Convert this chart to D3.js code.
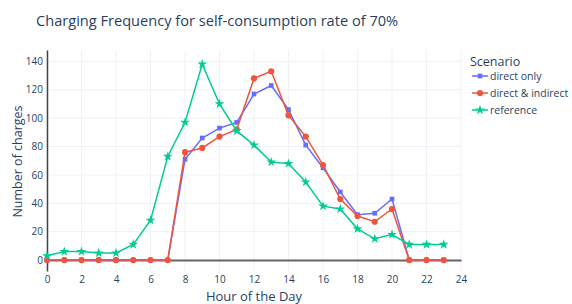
<!DOCTYPE html>
<html>
  <head>
    <meta charset="utf-8" />
    <title>Charging Frequency</title>
    <style>
      body {
        margin: 0;
        background: #fff;
      }
      text {
        font-family: "Open Sans", sans-serif;
        fill: #2a3f5f;
      }
    </style>
  </head>
  <body>
    <svg class="canvas"></svg>
    <script src="https://cdn.jsdelivr.net/npm/d3@7"></script>
    <script>
      const hours = d3.range(0, 24);
      const directOnly = [0, 0, 0, 0, 0, 0, 0, 0, 71, 86, 93, 97, 117, 123, 106, 81, 65, 48, 32, 33, 43, 0, 0, 0];
      const directIndirect = [0, 0, 0, 0, 0, 0, 0, 0, 76, 79, 87, 92, 128, 133, 102, 87, 67, 43, 31, 27, 36, 0, 0, 0];
      const reference = [3, 6, 6, 5, 5, 11, 28, 73, 97, 138, 110, 91, 81, 69, 68, 55, 38, 36, 22, 15, 18, 11, 11, 11];
      const xTicks = d3.range(0, 25, 2);
      const yTicks = [0, 20, 40, 60, 80, 100, 120, 140];

      const series = [
        { name: "direct only", values: directOnly, color: "#636efa", symbol: d3.symbolSquare, size: 22 },
        { name: "direct & indirect", values: directIndirect, color: "#ef553b", symbol: d3.symbolCircle, size: 30 },
        { name: "reference", values: reference, color: "#00cc96", symbol: d3.symbolStar, size: 30 },
      ];

      const width = 572,
        height = 304;
      const plotLeft = 47,
        plotRight = 461,
        plotTop = 50,
        plotBottom = 271;

      const svg = d3.select(".canvas").attr("width", width).attr("height", height);

      const x = d3.scaleLinear().domain([0, 24]).range([plotLeft, plotRight]);
      const y = d3.scaleLinear().domain([-7.7, 148]).range([plotBottom, plotTop]);

      //---------------grid----------------
      svg
        .append("g")
        .selectAll("line")
        .data(xTicks)
        .join("line")
        .attr("x1", (d) => x(d))
        .attr("x2", (d) => x(d))
        .attr("y1", plotTop)
        .attr("y2", plotBottom)
        .attr("stroke", "#eef1f6");

      svg
        .append("g")
        .selectAll("line")
        .data(yTicks.slice(1))
        .join("line")
        .attr("x1", plotLeft)
        .attr("x2", plotRight)
        .attr("y1", (d) => y(d))
        .attr("y2", (d) => y(d))
        .attr("stroke", "#eef1f6");

      //---------------axes----------------
      const xAxis = svg
        .append("g")
        .attr("transform", `translate(0,${y(0)})`)
        .call(d3.axisBottom(x).tickValues(xTicks).tickSize(0).tickPadding(16));
      xAxis.select(".domain").attr("stroke", "#666").attr("stroke-width", 2);
      xAxis.selectAll("text").attr("font-size", 10).style("fill", "#2a3f5f");

      const yAxis = svg
        .append("g")
        .attr("transform", `translate(${plotLeft},0)`)
        .call(d3.axisLeft(y).tickValues(yTicks).tickSize(0).tickPadding(4));
      yAxis.select(".domain").attr("stroke", "#444").attr("stroke-width", 1.5);
      yAxis.selectAll("text").attr("font-size", 10).style("fill", "#2a3f5f");

      //---------------lines----------------
      const line = d3
        .line()
        .x((d, i) => x(hours[i]))
        .y((d) => y(d));

      series.forEach((s) => {
        svg
          .append("path")
          .datum(s.values)
          .attr("fill", "none")
          .attr("stroke", s.color)
          .attr("stroke-width", 1.5)
          .attr("d", line);
        svg
          .append("g")
          .selectAll("path")
          .data(s.values)
          .join("path")
          .attr("transform", (d, i) => `translate(${x(hours[i])},${y(d)})`)
          .attr("d", d3.symbol().type(s.symbol).size(s.size))
          .attr("fill", s.color);
      });

      //---------------titles----------------
      svg
        .append("text")
        .attr("x", 36)
        .attr("y", 26)
        .attr("font-size", 14.6)
        .text("Charging Frequency for self-consumption rate of 70%");

      svg
        .append("text")
        .attr("x", 254)
        .attr("y", 301)
        .attr("text-anchor", "middle")
        .attr("font-size", 13)
        .text("Hour of the Day");

      svg
        .append("text")
        .attr("transform", `translate(22,${(plotTop + plotBottom) / 2 + 1}) rotate(-90)`)
        .attr("text-anchor", "middle")
        .attr("font-size", 12.5)
        .text("Number of charges");

      //---------------legend----------------
      const legend = svg.append("g").attr("transform", "translate(470,0)");
      legend.append("text").attr("x", 0).attr("y", 66).attr("font-size", 12.5).text("Scenario");

      const items = legend
        .selectAll("g")
        .data(series)
        .join("g")
        .attr("transform", (d, i) => `translate(0,${76 + i * 17})`);
      items
        .append("line")
        .attr("x1", 2)
        .attr("x2", 18)
        .attr("stroke", (d) => d.color)
        .attr("stroke-width", 1.5);
      items
        .append("path")
        .attr("transform", "translate(10,0)")
        .attr("d", (d) => d3.symbol().type(d.symbol).size(d.size)())
        .attr("fill", (d) => d.color);
      items
        .append("text")
        .attr("x", 20)
        .attr("y", 4)
        .attr("font-size", 10.5)
        .text((d) => d.name);
    </script>
  </body>
</html>
